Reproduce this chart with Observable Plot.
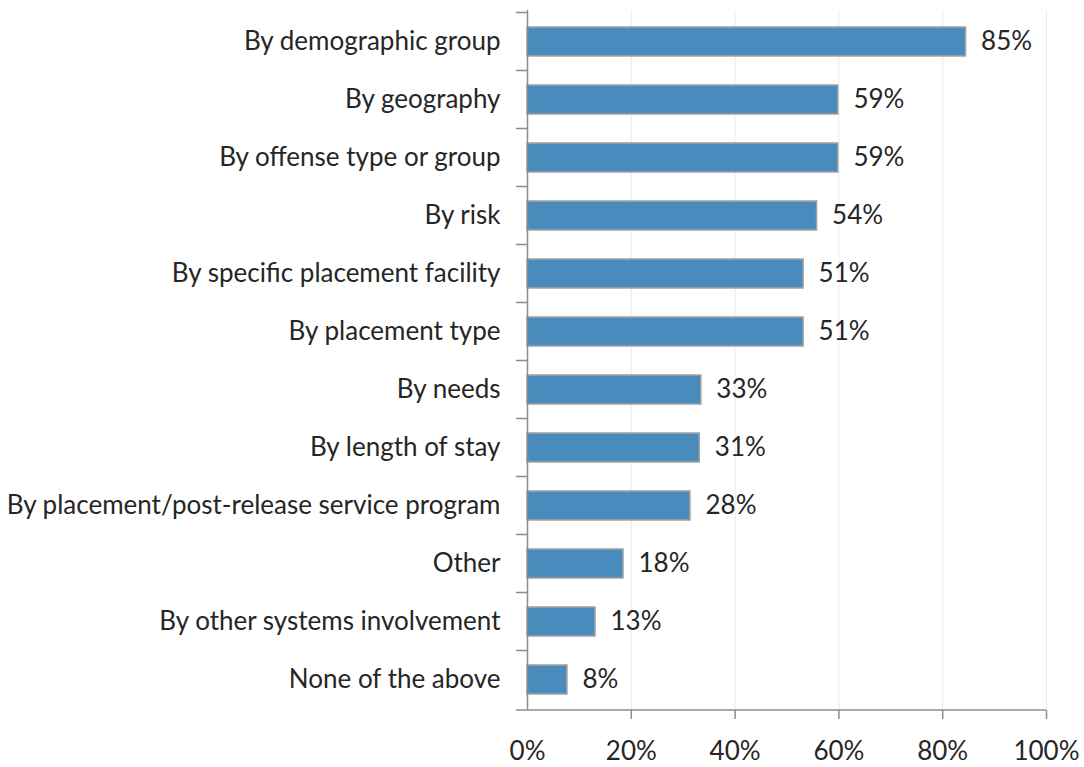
<!DOCTYPE html>
<html><head><meta charset="utf-8">
<script src="https://cdn.jsdelivr.net/npm/d3@7"></script>
<script src="https://cdn.jsdelivr.net/npm/@observablehq/plot@0.6"></script>
<style>body{margin:0;background:#fff;}</style>
</head><body><div id="chart"></div>
<script>
const categories = [
  "By demographic group",
  "By geography",
  "By offense type or group",
  "By risk",
  "By specific placement facility",
  "By placement type",
  "By needs",
  "By length of stay",
  "By placement/post-release service program",
  "Other",
  "By other systems involvement",
  "None of the above"
];
const values = [84.5, 59.9, 59.9, 55.8, 53.2, 53.2, 33.5, 33.2, 31.4, 18.5, 13.1, 7.7];
const labels = ["85%", "59%", "59%", "54%", "51%", "51%", "33%", "31%", "28%", "18%", "13%", "8%"];
const xTicks = [0, 20, 40, 60, 80, 100];

const data = categories.map((c, i) => ({category: c, value: values[i], label: labels[i]}));
const axisColor = "#8c8c8c";
const FS = 26;

const separators = (index, scales, vals, dims) => {
  const y = scales.y;
  const bw = y.bandwidth ? y.bandwidth() : 0;
  const step = y.step ? y.step() : (y(categories[1]) - y(categories[0]));
  const g = d3.create("svg:g").attr("stroke", axisColor).attr("stroke-width", 1.5);
  const x0 = dims.marginLeft;
  categories.forEach(c => {
    const yy = y(c) + bw / 2 - step / 2;
    g.append("line").attr("x1", x0 - 11).attr("x2", x0).attr("y1", yy).attr("y2", yy);
  });
  const yb = dims.height - dims.marginBottom;
  g.append("line").attr("x1", x0 - 11).attr("x2", dims.width - dims.marginRight).attr("y1", yb).attr("y2", yb);
  return g.node();
};

const chart = Plot.plot({
  width: 1084, height: 767,
  marginLeft: 527, marginRight: 38, marginTop: 10, marginBottom: 57,
  style: {fontFamily: "Lato", fontSize: FS + "px", background: "#fff", color: "#262626", overflow: "visible"},
  x: {domain: [0, 100]},
  y: {domain: categories, paddingInner: 0.5, paddingOuter: 0.25},
  marks: [
    Plot.ruleX(xTicks.slice(1), {stroke: "#ebebeb", strokeWidth: 1}),
    Plot.barX(data, {x: "value", y: "category", fill: "#4a8bbd", stroke: "#a3a3a3", strokeWidth: 1.5}),
    Plot.text(data, {x: "value", y: "category", text: "label", textAnchor: "start", dx: 15, fontSize: FS, fill: "#262626"}),
    Plot.ruleX([0], {stroke: axisColor, strokeWidth: 1.5}),
    separators,
    Plot.axisY({tickSize: 0, tickPadding: 27, fontSize: FS, label: null}),
    Plot.axisX({ticks: xTicks.slice(1), tickSize: 9, tickFormat: () => "", stroke: axisColor, strokeWidth: 1.5, label: null}),
    Plot.axisX({ticks: xTicks, tickSize: 0, tickPadding: 31, tickFormat: d => d + "%", fontSize: FS, label: null})
  ]
});
document.getElementById("chart").appendChild(chart);
</script>
</body></html>
